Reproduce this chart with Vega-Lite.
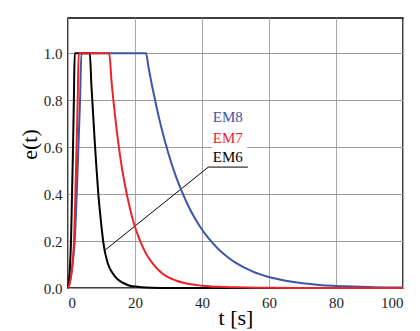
{
  "$schema": "https://vega.github.io/schema/vega-lite/v6.json",
  "width": 335,
  "height": 270,
  "autosize": {"type": "none"},
  "padding": {"left": 68, "top": 18, "right": 17, "bottom": 43},
  "background": "white",
  "config": {
    "view": {"stroke": "#000", "strokeWidth": 1.5},
    "text": {"font": "Liberation Serif"},
    "axis": {
      "labelFont": "Liberation Serif",
      "titleFont": "Liberation Serif",
      "labelFontSize": 15,
      "labelColor": "#222",
      "titleFontSize": 22,
      "titleFontWeight": "normal",
      "titleColor": "#000",
      "domain": false,
      "ticks": false,
      "grid": true,
      "gridWidth": 1
    }
  },
  "datasets": {
    "curves": [
      {"series": "EM8", "t": 0, "e": 0}, {"series": "EM8", "t": 0.5, "e": 0.02}, {"series": "EM8", "t": 1.0, "e": 0.06}, {"series": "EM8", "t": 1.5, "e": 0.12}, {"series": "EM8", "t": 2.0, "e": 0.2}, {"series": "EM8", "t": 2.6, "e": 0.4}, {"series": "EM8", "t": 3.1, "e": 0.6}, {"series": "EM8", "t": 3.6, "e": 0.8}, {"series": "EM8", "t": 4.0, "e": 1.0}, {"series": "EM8", "t": 23.3, "e": 1.0}, {"series": "EM8", "t": 24, "e": 0.943}, {"series": "EM8", "t": 25, "e": 0.868}, {"series": "EM8", "t": 26, "e": 0.8}, {"series": "EM8", "t": 27, "e": 0.735}, {"series": "EM8", "t": 28, "e": 0.676}, {"series": "EM8", "t": 30, "e": 0.572}, {"series": "EM8", "t": 32, "e": 0.484}, {"series": "EM8", "t": 34, "e": 0.41}, {"series": "EM8", "t": 36, "e": 0.347}, {"series": "EM8", "t": 38, "e": 0.294}, {"series": "EM8", "t": 40, "e": 0.249}, {"series": "EM8", "t": 42, "e": 0.211}, {"series": "EM8", "t": 45, "e": 0.164}, {"series": "EM8", "t": 48, "e": 0.128}, {"series": "EM8", "t": 50, "e": 0.108}, {"series": "EM8", "t": 55, "e": 0.071}, {"series": "EM8", "t": 60, "e": 0.047}, {"series": "EM8", "t": 65, "e": 0.031}, {"series": "EM8", "t": 70, "e": 0.02}, {"series": "EM8", "t": 75, "e": 0.013}, {"series": "EM8", "t": 80, "e": 0.009}, {"series": "EM8", "t": 85, "e": 0.006}, {"series": "EM8", "t": 90, "e": 0.004}, {"series": "EM8", "t": 95, "e": 0.0025}, {"series": "EM8", "t": 100, "e": 0.0017},
      {"series": "EM6", "t": 0, "e": 0}, {"series": "EM6", "t": 0.5, "e": 0.07}, {"series": "EM6", "t": 0.9, "e": 0.2}, {"series": "EM6", "t": 1.2, "e": 0.4}, {"series": "EM6", "t": 1.5, "e": 0.6}, {"series": "EM6", "t": 1.75, "e": 0.8}, {"series": "EM6", "t": 2.0, "e": 1.0}, {"series": "EM6", "t": 6.5, "e": 1.0}, {"series": "EM6", "t": 7.0, "e": 0.86}, {"series": "EM6", "t": 7.5, "e": 0.74}, {"series": "EM6", "t": 8.0, "e": 0.62}, {"series": "EM6", "t": 8.5, "e": 0.51}, {"series": "EM6", "t": 9.0, "e": 0.41}, {"series": "EM6", "t": 9.5, "e": 0.33}, {"series": "EM6", "t": 10.0, "e": 0.26}, {"series": "EM6", "t": 10.5, "e": 0.2}, {"series": "EM6", "t": 11, "e": 0.155}, {"series": "EM6", "t": 11.5, "e": 0.125}, {"series": "EM6", "t": 12, "e": 0.1}, {"series": "EM6", "t": 13, "e": 0.07}, {"series": "EM6", "t": 14, "e": 0.05}, {"series": "EM6", "t": 15, "e": 0.035}, {"series": "EM6", "t": 16, "e": 0.025}, {"series": "EM6", "t": 17, "e": 0.018}, {"series": "EM6", "t": 18, "e": 0.012}, {"series": "EM6", "t": 20, "e": 0.006}, {"series": "EM6", "t": 22, "e": 0.003}, {"series": "EM6", "t": 25, "e": 0.001}, {"series": "EM6", "t": 30, "e": 0}, {"series": "EM6", "t": 100, "e": 0},
      {"series": "EM7", "t": 0, "e": 0}, {"series": "EM7", "t": 0.5, "e": 0.02}, {"series": "EM7", "t": 1.0, "e": 0.06}, {"series": "EM7", "t": 1.5, "e": 0.13}, {"series": "EM7", "t": 1.8, "e": 0.2}, {"series": "EM7", "t": 2.2, "e": 0.4}, {"series": "EM7", "t": 2.6, "e": 0.62}, {"series": "EM7", "t": 2.9, "e": 0.8}, {"series": "EM7", "t": 3.2, "e": 1.0}, {"series": "EM7", "t": 12.3, "e": 1.0}, {"series": "EM7", "t": 13, "e": 0.88}, {"series": "EM7", "t": 14, "e": 0.74}, {"series": "EM7", "t": 15, "e": 0.62}, {"series": "EM7", "t": 16, "e": 0.52}, {"series": "EM7", "t": 17, "e": 0.44}, {"series": "EM7", "t": 18, "e": 0.37}, {"series": "EM7", "t": 19, "e": 0.31}, {"series": "EM7", "t": 20, "e": 0.26}, {"series": "EM7", "t": 21, "e": 0.22}, {"series": "EM7", "t": 22, "e": 0.185}, {"series": "EM7", "t": 23, "e": 0.155}, {"series": "EM7", "t": 24, "e": 0.13}, {"series": "EM7", "t": 25, "e": 0.11}, {"series": "EM7", "t": 26, "e": 0.092}, {"series": "EM7", "t": 27, "e": 0.077}, {"series": "EM7", "t": 28, "e": 0.064}, {"series": "EM7", "t": 30, "e": 0.045}, {"series": "EM7", "t": 32, "e": 0.033}, {"series": "EM7", "t": 35, "e": 0.02}, {"series": "EM7", "t": 40, "e": 0.01}, {"series": "EM7", "t": 45, "e": 0.005}, {"series": "EM7", "t": 50, "e": 0.003}, {"series": "EM7", "t": 60, "e": 0.001}, {"series": "EM7", "t": 70, "e": 0}, {"series": "EM7", "t": 100, "e": 0}
    ],
    "leader": [
      {"t": 11.1, "e": 0.162}, {"t": 41.9, "e": 0.515}, {"t": 53.7, "e": 0.515}
    ],
    "box": [
      {"t1": 43, "t2": 53.5, "e1": 0.53, "e2": 0.735}
    ],
    "labels": [
      {"series": "EM8", "t": 43.2, "e": 0.706},
      {"series": "EM7", "t": 43.2, "e": 0.617},
      {"series": "EM6", "t": 43.2, "e": 0.536}
    ]
  },
  "layer": [
    {
      "data": {"name": "box"},
      "mark": {"type": "rect", "fill": "white"},
      "encoding": {
        "x": {
          "field": "t1", "type": "quantitative",
          "scale": {"domain": [0, 100], "nice": false, "zero": false},
          "axis": {"values": [0, 20, 40, 60, 80, 100], "title": "t [s]", "labelFont": "Liberation Serif", "titleFont": "Liberation Serif", "labelFontSize": 15, "titleFontSize": 22, "labelPadding": 7, "titlePadding": -3, "gridColor": "#a8a8a8"}
        },
        "x2": {"field": "t2"},
        "y": {
          "field": "e1", "type": "quantitative",
          "scale": {"domain": [0, 1.15], "nice": false, "zero": false},
          "axis": {"values": [0, 0.2, 0.4, 0.6, 0.8, 1.0], "format": ".1f", "title": "e(t)", "labelFont": "Liberation Serif", "titleFont": "Liberation Serif", "labelFontSize": 15, "titleFontSize": 22, "labelPadding": 6, "titlePadding": 2, "titleY": 126, "gridColor": "#999999"}
        },
        "y2": {"field": "e2"}
      }
    },
    {
      "data": {"name": "leader"},
      "mark": {"type": "line", "color": "#000", "strokeWidth": 1},
      "encoding": {
        "x": {"field": "t", "type": "quantitative"},
        "y": {"field": "e", "type": "quantitative"}
      }
    },
    {
      "data": {"name": "curves"},
      "mark": {"type": "line", "strokeWidth": 2, "interpolate": "monotone"},
      "encoding": {
        "x": {"field": "t", "type": "quantitative"},
        "y": {"field": "e", "type": "quantitative"},
        "color": {
          "field": "series", "type": "nominal",
          "scale": {"domain": ["EM8", "EM7", "EM6"], "range": ["#3d55a8", "#ec2228", "#000000"]},
          "legend": null
        }
      }
    },
    {
      "data": {"name": "labels"},
      "mark": {"type": "text", "align": "left", "baseline": "alphabetic", "font": "Liberation Serif", "fontSize": 15},
      "encoding": {
        "x": {"field": "t", "type": "quantitative"},
        "y": {"field": "e", "type": "quantitative"},
        "text": {"field": "series"},
        "color": {"field": "series", "type": "nominal", "legend": null}
      }
    }
  ]
}
